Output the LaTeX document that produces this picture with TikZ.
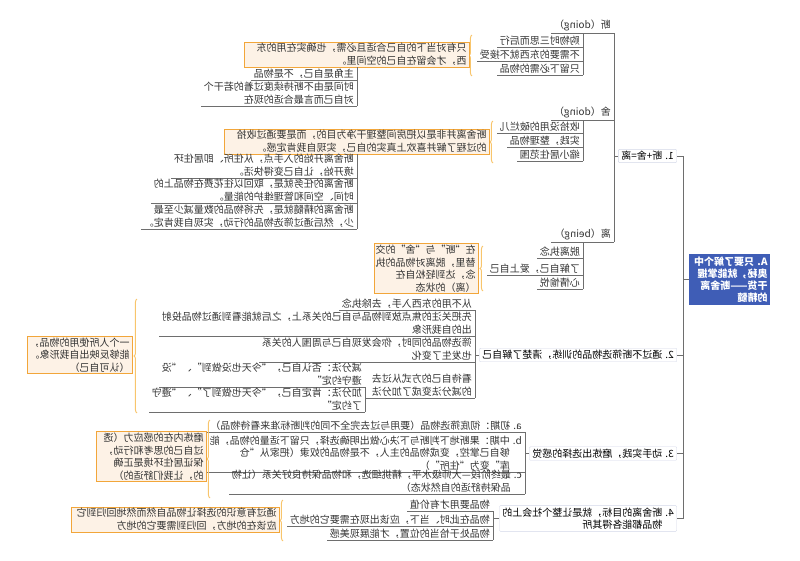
\documentclass[tikz,border=0pt]{standalone}
\usepackage{fontspec}
\newfontfamily\cjk{Noto Sans CJK SC}
\usetikzlibrary{decorations.pathreplacing}

\definecolor{rootblue}{HTML}{3F5DB6}
\definecolor{linegray}{HTML}{6E6E6E}
\definecolor{boxline}{HTML}{D3D7E8}
\definecolor{sumline}{HTML}{F2A63A}
\definecolor{sumfill}{HTML}{FDF2E6}
\definecolor{bracecol}{HTML}{F8C56C}
\definecolor{txt}{HTML}{333333}

\tikzset{
  every node/.style={font=\cjk\fontsize{10}{12.5}\selectfont, text=txt},
  rootbox/.style={fill=rootblue, text=white, font=\cjk\bfseries\fontsize{10}{12}\selectfont,
    align=left, text width=76pt, inner sep=2.5pt, minimum height=51pt},
  branchbox/.style={draw=boxline, fill=white, rounded corners=1pt, anchor=west,
    inner xsep=3pt, inner ysep=2pt, align=left, text=black},
  leaf/.style={anchor=south west, inner xsep=3pt, inner ysep=1.5pt, align=left,
    append after command={(\tikzlastnode.south west) edge[conn] (\tikzlastnode.south east)}},
  summary/.style={draw=sumline, fill=sumfill, line width=0.8pt, anchor=west,
    align=left, inner xsep=3pt, inner ysep=1.5pt},
  conn/.style={draw=linegray, line width=0.6pt},
  bracket/.style={draw=bracecol, line width=1pt, decorate, decoration={brace, amplitude=3pt}}
}

\begin{document}
\begin{tikzpicture}[x=1pt, y=-1pt, xscale=-1, transform shape]
\useasboundingbox (0,0) rectangle (800,560);

% centre topic
\node[rootbox] (root) at (70.5,279.5) {A. 只要了解个中\\奥秘，就能掌握\\干货——断舍离\\的精髓};
\coordinate (trunk) at (116.5,281);

% main branches
\node[branchbox] (b1) at (123,156) {1. 断+舍=离};
\node[branchbox] (b2) at (123,355) {2. 通过不断筛选物品的训练，清楚了解自己};
\node[branchbox] (b3) at (123,453.5) {3. 动手实践，磨炼出选择的感觉};
\node[branchbox] (b4) at (123,518.5) {4. 断舍离的目标，就是让整个社会上的\\\phantom{4. }物品都能各得其所};
\draw[conn] (root.east) -- (root.east -| trunk);
\draw[conn] (b1.west -| trunk) -- (b4.west -| trunk);
\foreach \b in {b1,b2,b3,b4}
  \draw[conn] (\b.west -| trunk) -- (\b.west);

% 1. duan / she / li
\node[leaf] (duan) at (186,33) {断（doing）};
\node[leaf] (she) at (186,120) {舍（doing）};
\node[leaf] (li) at (186,242) {离（being）};
\draw[conn] (b1.east) -- (b1.east -| duan.south west);
\draw[conn] (duan.south west) -- (li.south west);

\node[leaf] (duan1) at (217,47) {购物时三思而后行};
\node[leaf] (duan2) at (217,61) {不需要的东西就不接受};
\node[leaf] (duan3) at (217,75) {只留下必需的物品};
\draw[conn] (duan.south west -| duan1.south west) -- (duan3.south west);
\draw[bracket] (328,76) -- (328,35);
\node[summary, text width=219pt] (duansum) at (330,54.5)
  {只有对当下的自己合适且必需，也确实在用的东\\西，才会留在自己的空间里。};
\node[leaf] (duansum1) at (443,80) {主角是自己，不是物品};
\node[leaf] (duansum2) at (443,106) {时间是由不断持续度过着的若干个\\对自己而言最合适的现在};
\draw[conn] (duansum.south -| duansum1.south west) -- (duansum2.south west);

\node[leaf] (she1) at (217,133) {收拾没用的破烂儿};
\node[leaf] (she2) at (217,147) {实践，整理物品};
\node[leaf] (she3) at (217,161) {缩小居住范围};
\draw[conn] (she.south west -| she1.south west) -- (she3.south west);
\draw[bracket] (307,163) -- (307,121);
\node[summary, text width=259pt] (shesum) at (310,141.5)
  {断舍离并非是以把房间整理干净为目的，而是要通过收拾\\的过程了解并喜欢上真实的自己，实现自我肯定感。};
\node[leaf] (shesum1) at (443,178) {断舍离开始的入手点，从住所、即居住环\\境开始，让自己变得快活。};
\node[leaf] (shesum2) at (443,203) {断舍离的任务就是，取回以往花费在物品上的\\时间、空间和管理维护的能量。};
\node[leaf] (shesum3) at (443,229) {断舍离的精髓就是，先将物品的数量减少至最\\少，然后通过筛选物品的行动，实现自我肯定。};
\draw[conn] (shesum.south -| shesum1.south west) -- (shesum3.south west);

\node[leaf] (li1) at (217,258) {脱离执念};
\node[leaf] (li2) at (217,275) {了解自己，爱上自己};
\node[leaf] (li3) at (217,289) {心情愉悦};
\draw[conn] (li.south west -| li1.south west) -- (li3.south west);
\draw[bracket] (317,291) -- (317,246);
\node[summary, text width=98pt] (lisum) at (321,268.5)
  {在“断”与“舍”的交\\替里，脱离对物品的执\\念，达到轻松自在\\（离）的状态};

% 2.
\node[leaf] (tong1) at (325,310) {从不用的东西入手，去除执念};
\node[leaf] (tong2) at (325,336) {先把关注的焦点放到物品与自己的关系上，之后就能看到通过物品投射\\出的自我形象};
\node[leaf] (tong3) at (325,362) {筛选物品的同时，你会发现自己与周围人的关系\\也发生了变化};
\node[leaf] (tong4) at (325,398) {看待自己的方式从过去\\的减分法变成了加分法};
\draw[conn] (b2.east) -- (b2.east -| tong1.south west);
\draw[conn] (tong1.south west) -- (tong4.south west);
\node[leaf] (jian) at (435,387) {减分法：否认自己，“今天也没做到”、“没\\遵守约定”};
\node[leaf] (jia) at (435,412) {加分法：肯定自己，“今天也做到了”、“遵守\\了约定”};
\draw[conn] (tong4.south east) -- (tong4.south east -| jian.south west);
\draw[conn] (jian.south west) -- (jia.south west);
\draw[bracket] (663,413) -- (663,299);
\node[summary, text width=99pt] (tongsum) at (667,355)
  {一个人所使用的物品，\\能够反映出自我形象。\\（认可自己）};

% 3.
\node[leaf] (dong1) at (275,432) {a. 初期：彻底筛选物品（要用与过去完全不同的判断标准来看待物品）};
\node[leaf] (dong2) at (275,472) {b. 中期：果断地下判断与下决心做出明确选择，只留下适量的物品，能\\\phantom{b. }够自己掌控，变成物品的主人，不是物品的奴隶（把家从“仓\\\phantom{b. }库”变为“住所”）};
\node[leaf] (dong3) at (275,494) {c. 最终阶段—大师级水平，精挑细选，和物品保持良好关系（让物\\\phantom{c. }品保持舒适的自然状态）};
\draw[conn] (b3.east) -- (b3.east -| dong1.south west);
\draw[conn] (dong1.south west) -- (dong3.south west);
\draw[bracket] (590,498) -- (590,420);
\node[summary, text width=104pt] (dongsum) at (593,456.5)
  {磨炼内在的感应力（透\\过自己的思考和行动，\\保证居住环境是正确\\的，让我们舒适的）};

% 4.
\node[leaf] (mu1) at (307,511) {物品要用才有价值};
\node[leaf] (mu2) at (307,526) {物品在此时、当下，应该出现在需要它的地方};
\node[leaf] (mu3) at (307,540) {物品处于恰当的位置，才能展现美感};
\draw[conn] (b4.east) -- (b4.east -| mu1.south west);
\draw[conn] (mu1.south west) -- (mu3.south west);
\draw[bracket] (517,541) -- (517,500);
\node[summary, text width=202pt] (musum) at (520,519.5)
  {通过有意识的选择让物品自然而然地回归到它\\应该在的地方，回归到需要它的地方};
\end{tikzpicture}
\end{document}
